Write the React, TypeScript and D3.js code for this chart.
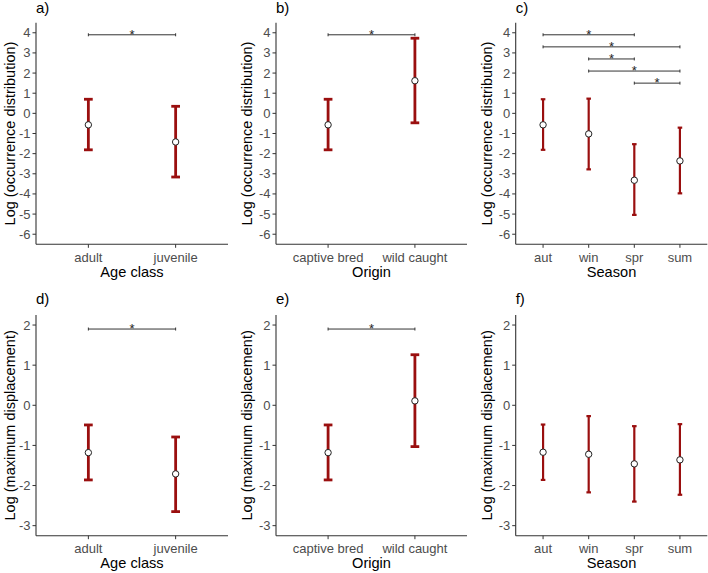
import React from "react";
import * as d3 from "d3";

// ---------- DATA ----------
const ageCats = ["adult", "juvenile"];
const originCats = ["captive bred", "wild caught"];
const seasonCats = ["aut", "win", "spr", "sum"];

const occTicks = [-6, -5, -4, -3, -2, -1, 0, 1, 2, 3, 4];
const dispTicks = [-3, -2, -1, 0, 1, 2];

const occAgeMean = [-0.57, -1.42];
const occAgeLower = [-1.81, -3.16];
const occAgeUpper = [0.7, 0.35];

const occOriginMean = [-0.57, 1.62];
const occOriginLower = [-1.81, -0.47];
const occOriginUpper = [0.7, 3.73];

const occSeasonMean = [-0.57, -1.02, -3.32, -2.36];
const occSeasonLower = [-1.81, -2.78, -5.04, -3.97];
const occSeasonUpper = [0.7, 0.73, -1.53, -0.71];

const dispAgeMean = [-1.18, -1.71];
const dispAgeLower = [-1.86, -2.65];
const dispAgeUpper = [-0.49, -0.79];

const dispOriginMean = [-1.18, 0.11];
const dispOriginLower = [-1.86, -1.03];
const dispOriginUpper = [-0.49, 1.26];

const dispSeasonMean = [-1.17, -1.22, -1.46, -1.36];
const dispSeasonLower = [-1.86, -2.17, -2.4, -2.23];
const dispSeasonUpper = [-0.48, -0.27, -0.52, -0.47];

const occAgeSig = [["adult", "juvenile", 3.9]];
const occOriginSig = [["captive bred", "wild caught", 3.9]];
const occSeasonSig = [
  ["aut", "spr", 3.9],
  ["aut", "sum", 3.3],
  ["win", "spr", 2.7],
  ["win", "sum", 2.1],
  ["spr", "sum", 1.5],
];
const dispAgeSig = [["adult", "juvenile", 1.9]];
const dispOriginSig = [["captive bred", "wild caught", 1.9]];
const dispSeasonSig: any[] = [];

const FONT = "Liberation Sans, Arial, Helvetica, sans-serif";
const RED = "#9a0f0f";

type PanelProps = {
  tag: string;
  cats: string[];
  mean: number[];
  lower: number[];
  upper: number[];
  sig: any[];
  ticks: number[];
  xTitle: string;
  yTitle: string;
  left: number;
  right: number;
  top: number;
  bottom: number;
  yTitleX: number;
  tagY: number;
  tickLabelY: number;
  xTitleY: number;
  barW: number;
};

function Panel(p: PanelProps) {
  const ymin = d3.min(p.ticks) as number;
  const ymax = d3.max(p.ticks) as number;
  const pad = (ymax - ymin) * 0.05;
  const y = d3.scaleLinear().domain([ymin - pad, ymax + pad]).range([p.bottom, p.top]);
  const x = d3.scalePoint<string>().domain(p.cats).range([p.left, p.right]).padding(0.6);
  const capHalf = (x.step() * 0.1) / 2;
  const midY = (p.top + p.bottom) / 2;
  return (
    <g>
      <text x={p.left} y={p.tagY} fontSize={15} fill="#000" fontFamily={FONT}>
        {p.tag}
      </text>
      {/* axes */}
      <line x1={p.left} x2={p.left} y1={p.top} y2={p.bottom} stroke="#333" strokeWidth={1.1} />
      <line x1={p.left} x2={p.right} y1={p.bottom} y2={p.bottom} stroke="#333" strokeWidth={1.1} />
      {p.ticks.map((t) => (
        <g key={"yt" + t}>
          <line x1={p.left - 3.5} x2={p.left} y1={y(t)} y2={y(t)} stroke="#333" strokeWidth={1} />
          <text
            x={p.left - 5.5}
            y={y(t)}
            dy="0.35em"
            textAnchor="end"
            fontSize={13}
            fill="#4d4d4d"
            fontFamily={FONT}
          >
            {t}
          </text>
        </g>
      ))}
      {p.cats.map((c) => (
        <g key={"xt" + c}>
          <line x1={x(c)} x2={x(c)} y1={p.bottom} y2={p.bottom + 3.5} stroke="#333" strokeWidth={1} />
          <text
            x={x(c)}
            y={p.tickLabelY}
            textAnchor="middle"
            fontSize={13}
            fill="#4d4d4d"
            fontFamily={FONT}
          >
            {c}
          </text>
        </g>
      ))}
      <text
        x={(p.left + p.right) / 2}
        y={p.xTitleY}
        textAnchor="middle"
        fontSize={14.6}
        fill="#000"
        fontFamily={FONT}
      >
        {p.xTitle}
      </text>
      <text
        transform={`translate(${p.yTitleX},${midY}) rotate(-90)`}
        textAnchor="middle"
        dy="0.35em"
        fontSize={14.5}
        fill="#000"
        fontFamily={FONT}
      >
        {p.yTitle}
      </text>
      {/* significance bars */}
      {p.sig.map((s, i) => {
        const x1 = x(s[0]) as number;
        const x2 = x(s[1]) as number;
        const yy = y(s[2]);
        return (
          <g key={"sig" + i}>
            <line x1={x1} x2={x2} y1={yy} y2={yy} stroke="#333" strokeWidth={1} />
            <line x1={x1} x2={x1} y1={yy - 1.5} y2={yy + 1.5} stroke="#333" strokeWidth={1} />
            <line x1={x2} x2={x2} y1={yy - 1.5} y2={yy + 1.5} stroke="#333" strokeWidth={1} />
            <text
              x={(x1 + x2) / 2}
              y={yy + 4}
              textAnchor="middle"
              fontSize={13}
              fill="#222"
              fontFamily={FONT}
            >
              *
            </text>
          </g>
        );
      })}
      {/* error bars */}
      {p.cats.map((c, i) => {
        const cx = x(c) as number;
        return (
          <g key={"eb" + c}>
            <line x1={cx} x2={cx} y1={y(p.lower[i])} y2={y(p.upper[i])} stroke={RED} strokeWidth={p.barW} />
            <line x1={cx - capHalf} x2={cx + capHalf} y1={y(p.lower[i])} y2={y(p.lower[i])} stroke={RED} strokeWidth={p.barW} />
            <line x1={cx - capHalf} x2={cx + capHalf} y1={y(p.upper[i])} y2={y(p.upper[i])} stroke={RED} strokeWidth={p.barW} />
            <circle cx={cx} cy={y(p.mean[i])} r={3.2} fill="#fff" stroke="#222" strokeWidth={1} />
          </g>
        );
      })}
    </g>
  );
}

export default function App() {
  const topRow = { top: 22.7, bottom: 244.3, tagY: 13, tickLabelY: 261.5, xTitleY: 276.5, ticks: occTicks, yTitle: "Log (occurrence distribution)" };
  const botRow = { top: 315, bottom: 535.7, tagY: 304, tickLabelY: 553, xTitleY: 568, ticks: dispTicks, yTitle: "Log (maximum displacement)" };
  const cols = [
    { left: 36, right: 228, yTitleX: 9.5, xTitle: "Age class", barW: 2.8 },
    { left: 276, right: 467, yTitleX: 247, xTitle: "Origin", barW: 2.8 },
    { left: 515.7, right: 707.3, yTitleX: 486.7, xTitle: "Season", barW: 2.2 },
  ];
  return (
    <svg
      width={708}
      height={573}
      style={{ position: "absolute", left: 0, top: 0, background: "#fff" }}
      fontFamily={FONT}
    >
      <rect width={708} height={573} fill="#fff" />
      <Panel tag="a)" cats={ageCats} mean={occAgeMean} lower={occAgeLower} upper={occAgeUpper} sig={occAgeSig} {...topRow} {...cols[0]} />
      <Panel tag="b)" cats={originCats} mean={occOriginMean} lower={occOriginLower} upper={occOriginUpper} sig={occOriginSig} {...topRow} {...cols[1]} />
      <Panel tag="c)" cats={seasonCats} mean={occSeasonMean} lower={occSeasonLower} upper={occSeasonUpper} sig={occSeasonSig} {...topRow} {...cols[2]} />
      <Panel tag="d)" cats={ageCats} mean={dispAgeMean} lower={dispAgeLower} upper={dispAgeUpper} sig={dispAgeSig} {...botRow} {...cols[0]} />
      <Panel tag="e)" cats={originCats} mean={dispOriginMean} lower={dispOriginLower} upper={dispOriginUpper} sig={dispOriginSig} {...botRow} {...cols[1]} />
      <Panel tag="f)" cats={seasonCats} mean={dispSeasonMean} lower={dispSeasonLower} upper={dispSeasonUpper} sig={dispSeasonSig} {...botRow} {...cols[2]} />
    </svg>
  );
}
